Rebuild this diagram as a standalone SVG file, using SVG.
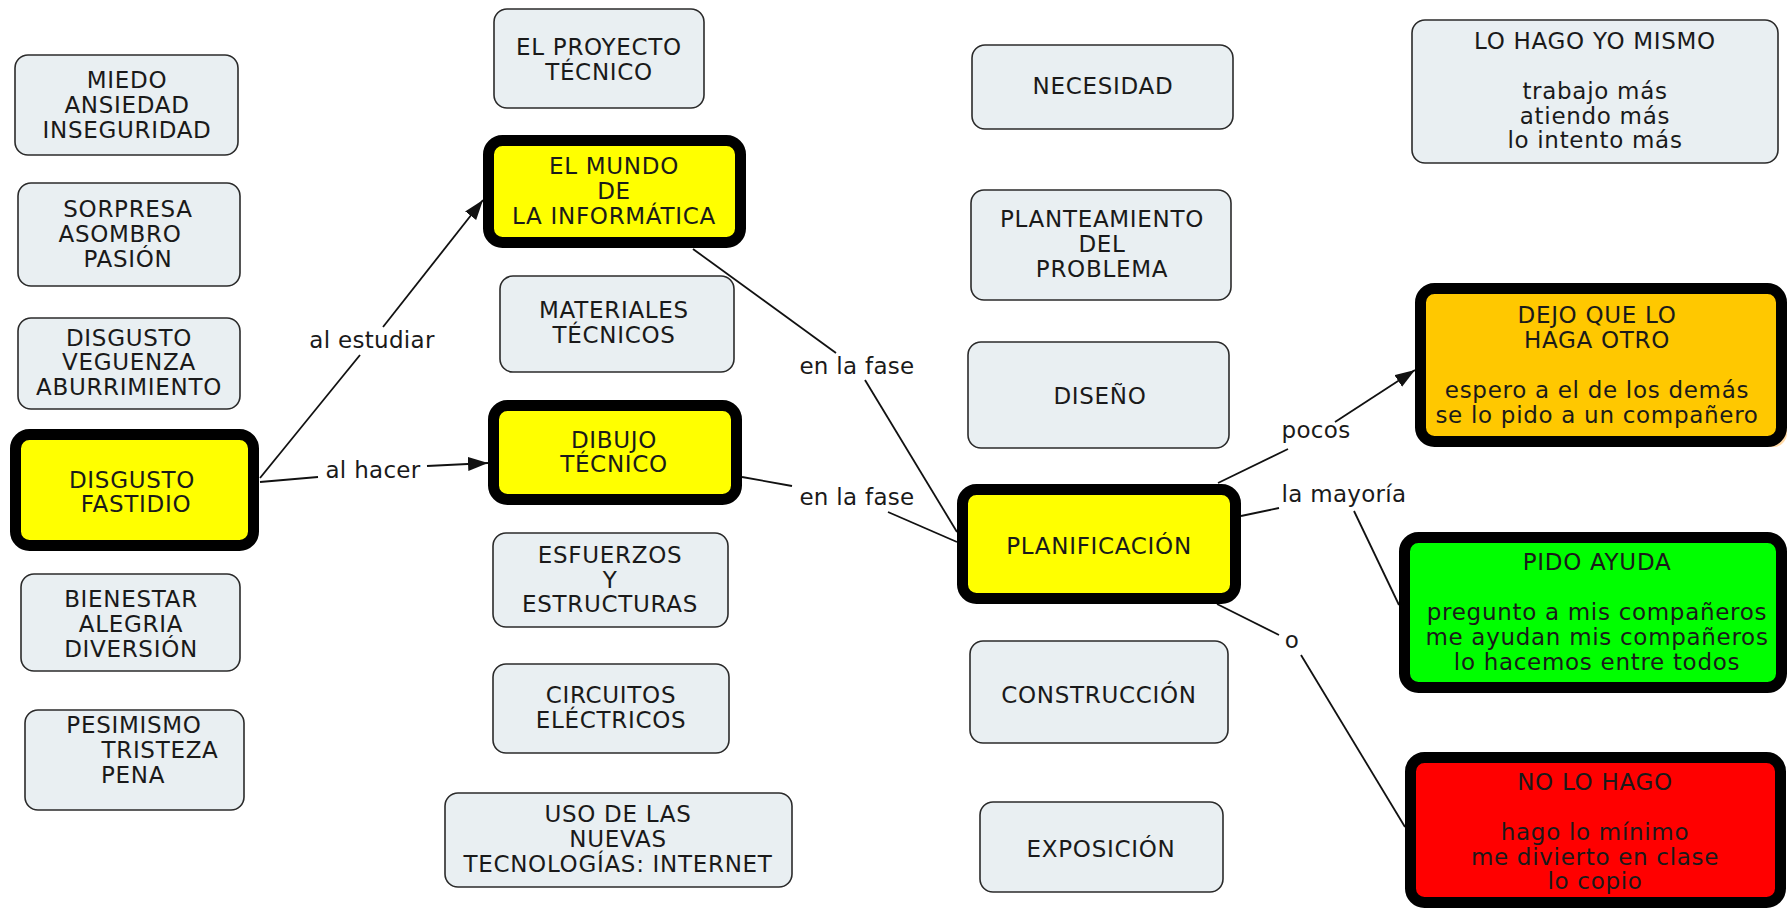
<svg xmlns="http://www.w3.org/2000/svg" width="1789" height="911" viewBox="0 0 1789 911">
<defs>
<marker id="arrow" markerUnits="userSpaceOnUse" markerWidth="22" markerHeight="16" refX="20" refY="7" orient="auto">
<path d="M0,0 L20,7 L0,14 z" fill="#111"/>
</marker>
<style>
text{font-family:"DejaVu Sans","Liberation Sans",sans-serif;font-size:23px;letter-spacing:0.7px;fill:#1a1a1a;text-anchor:middle}
.lb{fill:#E9EFF2;stroke:#2b2b2b;stroke-width:1.6}
.th{stroke:#000;stroke-width:11}
.y{fill:#FFFF00}
.o{fill:#FFC800}
.g{fill:#00FF00}
.r{fill:#FF0000}
.c{fill:none;stroke:#111;stroke-width:1.8}
.lab{letter-spacing:0.3px}
</style>
</defs>
<rect width="1789" height="911" fill="#fff"/>

<g id="connectors">
<line class="c" x1="260" y1="478" x2="360" y2="355"/>
<line class="c" x1="383" y1="327" x2="483" y2="200" marker-end="url(#arrow)"/>
<text class="lab" x="372" y="348">al estudiar</text>
<line class="c" x1="260" y1="482" x2="318" y2="477"/>
<line class="c" x1="427" y1="466" x2="488" y2="463" marker-end="url(#arrow)"/>
<text class="lab" x="373" y="478">al hacer</text>
<line class="c" x1="693" y1="249" x2="836" y2="353"/>
<line class="c" x1="865" y1="380" x2="957" y2="532"/>
<text class="lab" x="857" y="374">en la fase</text>
<line class="c" x1="742" y1="477" x2="792" y2="486"/>
<line class="c" x1="888" y1="512" x2="957" y2="542"/>
<text class="lab" x="857" y="505">en la fase</text>
<line class="c" x1="1218" y1="483" x2="1288" y2="449"/>
<line class="c" x1="1335" y1="422" x2="1415" y2="370" marker-end="url(#arrow)"/>
<text class="lab" x="1316" y="438">pocos</text>
<line class="c" x1="1241" y1="516" x2="1279" y2="508"/>
<line class="c" x1="1354" y1="511" x2="1399" y2="605"/>
<text class="lab" x="1344" y="502">la mayoría</text>
<line class="c" x1="1217" y1="604" x2="1279" y2="635"/>
<line class="c" x1="1301" y1="655" x2="1405" y2="827"/>
<text class="lab" x="1292" y="648">o</text>
</g>

<g id="n-miedo"><rect class="lb" x="15" y="55" width="223" height="100" rx="13"/>
<text x="127" y="88">MIEDO</text><text x="127" y="113">ANSIEDAD</text><text x="127" y="138">INSEGURIDAD</text></g>
<g id="n-sorpresa"><rect class="lb" x="18" y="183" width="222" height="103" rx="13"/>
<text x="128" y="217">SORPRESA</text><text x="120" y="242">ASOMBRO</text><text x="128" y="267">PASIÓN</text></g>
<g id="n-disgusto1"><rect class="lb" x="18" y="318" width="222" height="91" rx="13"/>
<text x="129" y="346">DISGUSTO</text><text x="129" y="370">VEGUENZA</text><text x="129" y="395">ABURRIMIENTO</text></g>
<g id="n-fastidio"><rect class="th y" x="15.5" y="434.5" width="238" height="111" rx="14"/>
<text x="132" y="488">DISGUSTO</text><text x="136" y="512">FASTIDIO</text></g>
<g id="n-bienestar"><rect class="lb" x="21" y="574" width="219" height="97" rx="13"/>
<text x="131" y="607">BIENESTAR</text><text x="131" y="632">ALEGRIA</text><text x="131" y="657">DIVERSIÓN</text></g>
<g id="n-pesimismo"><rect class="lb" x="25" y="710" width="219" height="100" rx="13"/>
<text x="134" y="733">PESIMISMO</text><text x="160" y="758">TRISTEZA</text><text x="133" y="783">PENA</text></g>

<g id="n-proyecto"><rect class="lb" x="494" y="9" width="210" height="99" rx="13"/>
<text x="599" y="55">EL PROYECTO</text><text x="599" y="80">TÉCNICO</text></g>
<g id="n-mundo"><rect class="th y" x="488.5" y="140.5" width="252" height="102" rx="14"/>
<text x="614" y="174">EL MUNDO</text><text x="614" y="199">DE</text><text x="614" y="224">LA INFORMÁTICA</text></g>
<g id="n-materiales"><rect class="lb" x="500" y="276" width="234" height="96" rx="13"/>
<text x="614" y="318">MATERIALES</text><text x="614" y="343">TÉCNICOS</text></g>
<g id="n-dibujo"><rect class="th y" x="493.5" y="405.5" width="243" height="94" rx="14"/>
<text x="614" y="448">DIBUJO</text><text x="614" y="472">TÉCNICO</text></g>
<g id="n-esfuerzos"><rect class="lb" x="493" y="533" width="235" height="94" rx="13"/>
<text x="610" y="563">ESFUERZOS</text><text x="610" y="588">Y</text><text x="610" y="612">ESTRUCTURAS</text></g>
<g id="n-circuitos"><rect class="lb" x="493" y="664" width="236" height="89" rx="13"/>
<text x="611" y="703">CIRCUITOS</text><text x="611" y="728">ELÉCTRICOS</text></g>
<g id="n-uso"><rect class="lb" x="445" y="793" width="347" height="94" rx="13"/>
<text x="618" y="822">USO DE LAS</text><text x="618" y="847">NUEVAS</text><text x="618" y="872">TECNOLOGÍAS: INTERNET</text></g>

<g id="n-necesidad"><rect class="lb" x="972" y="45" width="261" height="84" rx="13"/>
<text x="1103" y="94">NECESIDAD</text></g>
<g id="n-planteamiento"><rect class="lb" x="971" y="190" width="260" height="110" rx="13"/>
<text x="1102" y="227">PLANTEAMIENTO</text><text x="1102" y="252">DEL</text><text x="1102" y="277">PROBLEMA</text></g>
<g id="n-diseno"><rect class="lb" x="968" y="342" width="261" height="106" rx="13"/>
<text x="1100" y="404">DISEÑO</text></g>
<g id="n-planificacion"><rect class="th y" x="962.5" y="489.5" width="273" height="109" rx="14"/>
<text x="1099" y="554">PLANIFICACIÓN</text></g>
<g id="n-construccion"><rect class="lb" x="970" y="641" width="258" height="102" rx="13"/>
<text x="1099" y="703">CONSTRUCCIÓN</text></g>
<g id="n-exposicion"><rect class="lb" x="980" y="802" width="243" height="90" rx="13"/>
<text x="1101" y="857">EXPOSICIÓN</text></g>

<g id="n-yomismo"><rect class="lb" x="1412" y="20" width="366" height="143" rx="13"/>
<text x="1595" y="49">LO HAGO YO MISMO</text><text x="1595" y="99">trabajo más</text><text x="1595" y="124">atiendo más</text><text x="1595" y="148">lo intento más</text></g>
<g id="n-dejo"><rect x="1424" y="292" width="363" height="155" rx="14" fill="#FFD9A6"/>
<rect class="th o" x="1420.5" y="288.5" width="361" height="153" rx="14"/>
<text x="1597" y="323">DEJO QUE LO</text><text x="1597" y="348">HAGA OTRO</text><text x="1597" y="398">espero a el de los demás</text><text x="1597" y="423">se lo pido a un compañero</text></g>
<g id="n-pido"><rect class="th g" x="1404.5" y="537.5" width="377" height="150" rx="14"/>
<text x="1597" y="570">PIDO AYUDA</text><text x="1597" y="620">pregunto a mis compañeros</text><text x="1597" y="645">me ayudan mis compañeros</text><text x="1597" y="670">lo hacemos entre todos</text></g>
<g id="n-nolohago"><rect class="th r" x="1410.5" y="757.5" width="370" height="145" rx="14"/>
<text x="1595" y="790">NO LO HAGO</text><text x="1595" y="840">hago lo mínimo</text><text x="1595" y="865">me divierto en clase</text><text x="1595" y="889">lo copio</text></g>
</svg>
